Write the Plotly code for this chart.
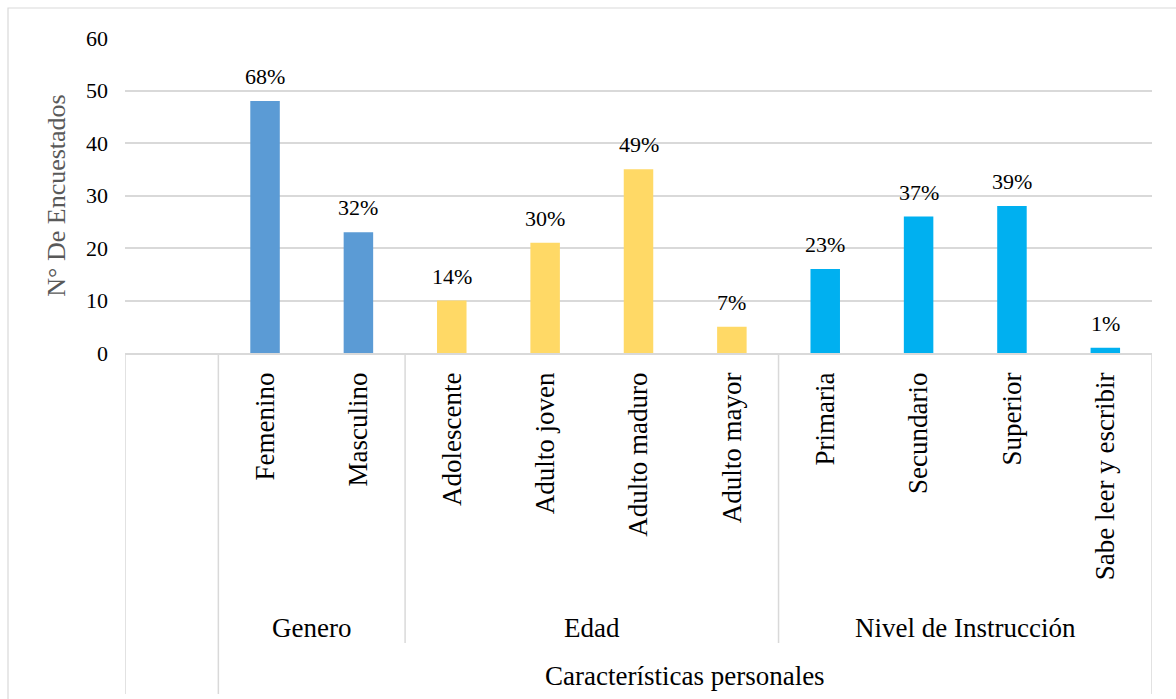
import plotly.graph_objects as go

# ---------------- data ----------------
categories = ["Femenino", "Masculino",
              "Adolescente", "Adulto joven", "Adulto maduro", "Adulto mayor",
              "Primaria", "Secundario", "Superior", "Sabe leer y escribir"]
values = [48, 23, 10, 21, 35, 5, 16, 26, 28, 1]
percent_labels = ["68%", "32%", "14%", "30%", "49%", "7%", "23%", "37%", "39%", "1%"]
groups = ["Genero", "Edad", "Nivel de Instrucción"]
group_sizes = [2, 4, 4]
group_colors = ["#5B9BD5", "#FFD966", "#00B0F0"]
top_title = "Características personales"
y_title = "N° De Encuestados"
y_ticks = [0, 10, 20, 30, 40, 50, 60]

# ---------------- layout constants ----------------
W, H = 1176, 699
L, R, T, B = 125, 24, 38, 346
PW, PH = W - L - R, H - T - B
FONT = "Liberation Serif"
GRID = "#D9D9D9"


def py(pixel_y):
    """pixel y (from top) -> paper y"""
    return (H - B - pixel_y) / PH


def px(pixel_x):
    return (pixel_x - L) / PW


# category positions (slot 0 left blank as in the original)
xpos = list(range(1, len(categories) + 1))
colors = []
for c, n in zip(group_colors, group_sizes):
    colors += [c] * n

fig = go.Figure()
fig.add_trace(go.Bar(
    x=xpos, y=values, marker=dict(color=colors, line=dict(width=0)),
    width=0.316, hoverinfo="x+y", showlegend=False,
))

shapes = []
annotations = []

# data labels
for x, v, t in zip(xpos, values, percent_labels):
    annotations.append(dict(x=x, y=v, xref="x", yref="y", text=t, showarrow=False,
                            yanchor="bottom", yshift=10,
                            font=dict(family=FONT, size=22, color="#000000")))

# group dividers and labels
start = 1
bounds = [start - 0.5]
for g, n in zip(groups, group_sizes):
    center = start + (n - 1) / 2
    annotations.append(dict(x=center, y=py(628), xref="x", yref="paper", text=g,
                            showarrow=False, yanchor="middle",
                            font=dict(family=FONT, size=27, color="#000000")))
    start += n
    bounds.append(start - 0.5)

# inner dividers (between groups): short
for b in bounds[1:-1]:
    shapes.append(dict(type="line", xref="x", yref="paper", x0=b, x1=b,
                       y0=0, y1=py(643), line=dict(color=GRID, width=1.5)))
# outer dividers: long
for b in [-0.5, bounds[0], bounds[-1]]:
    shapes.append(dict(type="line", xref="x", yref="paper", x0=b, x1=b,
                       y0=0, y1=py(694), line=dict(color=GRID, width=1.5)))

annotations.append(dict(x=(xpos[0] + xpos[-1]) / 2, y=py(676), xref="x", yref="paper",
                        text=top_title, showarrow=False, yanchor="middle",
                        font=dict(family=FONT, size=27, color="#000000")))

# chart border
shapes.append(dict(type="rect", xref="paper", yref="paper",
                   x0=px(8), x1=px(1182), y0=py(708), y1=py(8),
                   line=dict(color=GRID, width=1.2), layer="below"))

fig.update_layout(
    width=W, height=H,
    margin=dict(l=L, r=R, t=T, b=B, autoexpand=False),
    paper_bgcolor="white", plot_bgcolor="white",
    font=dict(family=FONT, color="#000000"),
    shapes=shapes, annotations=annotations,
    bargap=0.68,
    xaxis=dict(
        range=[-0.5, len(categories) + 0.5],
        tickmode="array", tickvals=xpos, ticktext=categories,
        tickangle=-90, tickfont=dict(family=FONT, size=27, color="#000000"),
        ticks="", ticklabelstandoff=7,
        showgrid=False, zeroline=False,
        showline=True, linecolor=GRID, linewidth=1.5,
        automargin=False, fixedrange=True,
    ),
    yaxis=dict(
        range=[0, 60], tickmode="array", tickvals=y_ticks,
        tickfont=dict(family=FONT, size=22, color="#000000"),
        ticks="", ticklabelstandoff=16,
        showgrid=True, gridcolor=GRID, gridwidth=1.5,
        zeroline=False, showline=False,
        title=dict(text=y_title, standoff=12,
                   font=dict(family=FONT, size=26, color="#595959")),
        automargin=False, fixedrange=True,
    ),
)

fig.write_html("out.html")
